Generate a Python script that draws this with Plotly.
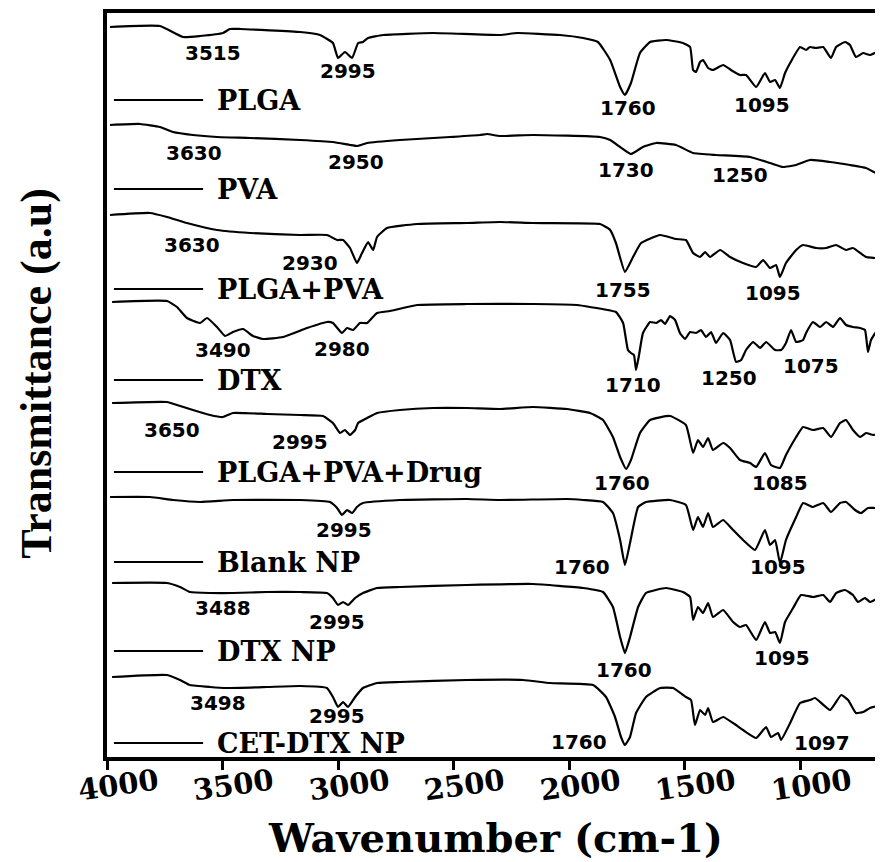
import plotly.graph_objects as go

# ---------------- data ----------------
sample_names = ["PLGA", "PVA", "PLGA+PVA", "DTX", "PLGA+PVA+Drug",
                "Blank NP", "DTX NP", "CET-DTX NP"]

plga_wn = [3987, 3771, 3671, 3597, 3498, 3468, 3424, 3164, 3078, 3022, 3000, 2970, 2939, 2913, 2892, 2870,
           2805, 2589, 2299, 2225, 2039, 1939, 1875, 1822, 1779, 1758, 1732, 1693, 1649, 1580, 1507, 1476,
           1463, 1450, 1433, 1420, 1398, 1377, 1333, 1299, 1260, 1234, 1190, 1152, 1130, 1108, 1087, 1065,
           1043, 1000, 974, 957, 931, 900, 866, 844, 805, 784, 758, 727, 697, 641]
plga_t = [730, 731, 720, 721, 724, 728, 728, 725, 722, 714, 699, 705, 699, 714, 715, 719,
          722, 724, 722, 724, 722, 719, 715, 697, 670, 662, 674, 704, 715, 717, 714, 710,
          687, 685, 695, 697, 689, 687, 692, 687, 682, 682, 670, 684, 675, 677, 669, 684,
          694, 710, 707, 710, 709, 710, 699, 710, 715, 712, 700, 704, 702, 709]

pva_wn = [3987, 3857, 3771, 3714, 3628, 3524, 3381, 3164, 3022, 2948, 2918, 2874, 2732, 2515, 2385, 2355,
          2299, 2156, 1866, 1822, 1779, 1732, 1680, 1623, 1537, 1463, 1364, 1216, 1130, 1074, 1017, 957,
          870, 784, 714, 671, 641]
pva_t = [632, 633, 630, 625, 622, 620, 619, 617, 615, 612, 611, 614, 617, 620, 622, 623,
         621, 622, 620, 617, 610, 603, 610, 614, 612, 604, 602, 600, 594, 590, 592, 597,
         595, 592, 589, 584, 587]

plgapva_wn = [3987, 3814, 3740, 3654, 3524, 3381, 3164, 3048, 3004, 2978, 2948, 2918, 2896, 2870, 2848, 2831,
              2788, 2658, 2442, 2299, 2156, 1866, 1822, 1797, 1758, 1723, 1688, 1606, 1537, 1494, 1463, 1433,
              1411, 1390, 1346, 1303, 1247, 1190, 1160, 1130, 1104, 1087, 1061, 1017, 987, 931, 887, 844,
              801, 771, 714, 671, 641]
plgapva_t = [542, 544, 540, 534, 527, 524, 522, 522, 517, 517, 509, 494, 504, 515, 507, 520,
             529, 533, 534, 535, 534, 533, 527, 514, 485, 500, 514, 522, 518, 517, 504, 500,
             505, 500, 507, 500, 494, 490, 497, 489, 492, 480, 494, 507, 512, 509, 509, 512,
             507, 509, 500, 499, 500]

dtx_wn = [3978, 3740, 3697, 3654, 3597, 3567, 3524, 3489, 3455, 3411, 3368, 3325, 3238, 3134, 3048, 3022,
          2983, 2961, 2935, 2905, 2874, 2831, 2775, 2658, 2442, 2156, 1965, 1909, 1797, 1766, 1745, 1732,
          1719, 1710, 1697, 1680, 1649, 1623, 1602, 1584, 1563, 1541, 1520, 1498, 1476, 1450, 1429, 1407,
          1385, 1364, 1333, 1303, 1277, 1255, 1234, 1203, 1173, 1147, 1108, 1082, 1061, 1039, 1017, 987,
          974, 944, 913, 887, 857, 827, 801, 771, 740, 719, 706, 693, 671, 641]
dtx_t = [455, 456, 450, 439, 434, 439, 430, 421, 425, 428, 421, 418, 420, 429, 435, 434,
         424, 429, 427, 434, 434, 444, 446, 452, 453, 453, 452, 450, 445, 434, 407, 404,
         402, 387, 402, 424, 435, 434, 437, 433, 441, 437, 424, 418, 425, 424, 427, 420,
         425, 414, 424, 417, 395, 397, 407, 415, 409, 415, 407, 407, 414, 427, 415, 417,
         424, 435, 430, 435, 430, 439, 432, 430, 429, 427, 405, 417, 425, 429]

drug_wn = [3978, 3740, 3697, 3628, 3554, 3498, 3455, 3307, 3164, 3065, 3022, 2991, 2970, 2948, 2926, 2913,
           2874, 2831, 2732, 2589, 2442, 2299, 2156, 2009, 1909, 1853, 1810, 1779, 1753, 1732, 1693, 1649,
           1563, 1494, 1463, 1442, 1420, 1398, 1377, 1333, 1303, 1260, 1216, 1190, 1152, 1126, 1087, 1061,
           1017, 987, 944, 900, 866, 827, 801, 771, 740, 714, 684, 641]
drug_t = [354, 355, 352, 347, 342, 340, 344, 343, 342, 341, 334, 324, 327, 322, 327, 334,
          339, 344, 347, 349, 349, 348, 350, 348, 344, 337, 320, 300, 288, 297, 324, 337,
          341, 332, 304, 317, 310, 319, 307, 314, 309, 297, 294, 290, 304, 292, 289, 302,
          320, 330, 327, 329, 320, 334, 337, 327, 320, 324, 322, 325]

blank_wn = [3987, 3814, 3714, 3597, 3455, 3164, 3035, 3004, 2983, 2961, 2939, 2918, 2892, 2732, 2442, 2299,
            2009, 1939, 1853, 1810, 1779, 1758, 1736, 1701, 1667, 1563, 1494, 1463, 1442, 1420, 1398, 1377,
            1333, 1290, 1247, 1195, 1152, 1130, 1108, 1087, 1061, 1017, 987, 944, 900, 866, 827, 801,
            762, 736, 706, 671, 641]
blank_t = [260, 260, 257, 255, 257, 257, 255, 249, 242, 247, 244, 250, 254, 257, 258, 257,
           258, 257, 255, 244, 217, 192, 214, 250, 255, 257, 252, 227, 240, 230, 244, 230,
           237, 227, 217, 207, 227, 212, 217, 194, 217, 240, 254, 250, 254, 245, 254, 255,
           247, 244, 249, 249, 250]

dtxnp_wn = [3978, 3740, 3684, 3641, 3554, 3455, 3307, 3164, 3048, 3022, 3000, 2978, 2957, 2926, 2892, 2831,
            2732, 2442, 2156, 1939, 1853, 1810, 1779, 1758, 1736, 1701, 1667, 1580, 1507, 1476, 1463, 1442,
            1420, 1398, 1377, 1333, 1290, 1260, 1234, 1190, 1152, 1130, 1108, 1087, 1065, 1030, 996, 944,
            900, 870, 844, 805, 771, 749, 719, 697, 641]
dtxnp_t = [174, 174, 170, 165, 164, 164, 165, 165, 164, 159, 152, 155, 152, 159, 164, 169,
           170, 172, 173, 169, 165, 150, 120, 104, 120, 150, 164, 169, 165, 160, 137, 150,
           144, 154, 140, 147, 135, 130, 132, 117, 135, 124, 125, 114, 135, 149, 162, 160,
           162, 155, 164, 167, 162, 155, 159, 155, 162]

cet_wn = [3978, 3740, 3684, 3641, 3554, 3481, 3307, 3164, 3048, 3022, 3000, 2978, 2957, 2926, 2892, 2831,
          2732, 2442, 2199, 2082, 1896, 1840, 1801, 1775, 1758, 1736, 1710, 1667, 1606, 1550, 1494, 1472,
          1455, 1433, 1411, 1398, 1377, 1333, 1290, 1247, 1190, 1147, 1126, 1095, 1082, 1043, 1000, 957,
          935, 870, 822, 792, 758, 727, 697, 641]
cet_t = [80, 82, 77, 72, 70, 69, 70, 71, 69, 60, 50, 55, 50, 60, 69, 74,
         75, 77, 77, 74, 72, 60, 40, 20, 12, 20, 44, 60, 69, 69, 60, 57,
         32, 47, 42, 49, 35, 40, 34, 27, 19, 30, 20, 24, 17, 34, 54, 57,
         59, 47, 62, 57, 44, 45, 49, 52]

spectra_wn = [plga_wn, pva_wn, plgapva_wn, dtx_wn, drug_wn, blank_wn, dtxnp_wn, cet_wn]
spectra_t = [plga_t, pva_t, plgapva_t, dtx_t, drug_t, blank_t, dtxnp_t, cet_t]

# level (a.u.) of each sample's name tag
name_level = [657, 568, 468, 377, 285, 195, 106, 14]

# peak labels: (text, wavenumber position, transmittance position)
peak_text = ["3515", "2995", "1760", "1095",
             "3630", "2950", "1730", "1250",
             "3630", "2930", "1755", "1095",
             "3490", "2980", "1710", "1250", "1075",
             "3650", "2995", "1760", "1085",
             "2995", "1760", "1095",
             "3488", "2995", "1760", "1095",
             "3498", "2995", "1760", "1097"]
peak_x = [3541, 2957, 1745, 1164,
          3623, 2922, 1753, 1260,
          3632, 3121, 1766, 1117,
          3498, 2983, 1723, 1307, 952,
          3719, 3164, 1771, 1087,
          2974, 1944, 1095,
          3498, 3004, 1762, 1078,
          3519, 3004, 1957, 905]
peak_y = [704, 686, 649, 652,
          604, 595, 587, 582,
          512, 494, 467, 464,
          407, 408, 372, 379, 391,
          327, 315, 274, 274,
          227, 190, 190,
          149, 135, 87, 99,
          54, 41, 15, 14]

tick_vals = [4000, 3500, 3000, 2500, 2000, 1500, 1000]
tick_text = ["4000", "3500", "3000", "2500", "2000", "1500", "1000"]

x_range = [4000, 641]
y_range = [0, 744]

# ---------------- figure ----------------
fig = go.Figure()

for name, wn, t in zip(sample_names, spectra_wn, spectra_t):
    fig.add_trace(go.Scatter(x=wn, y=t, mode="lines", name=name,
                             line=dict(color="black", width=2.2, shape="spline", smoothing=0.4),
                             showlegend=False, hoverinfo="skip"))

label_font = dict(family="DejaVu Serif", size=27, color="black", weight="bold")
num_font = dict(family="DejaVu Sans", size=20, color="black", weight="bold")

for name, lvl in zip(sample_names, name_level):
    fig.add_shape(type="line", xref="x", yref="y", x0=3970, x1=3584, y0=lvl, y1=lvl,
                  line=dict(color="black", width=2))
    fig.add_annotation(x=3532, y=lvl, xref="x", yref="y", text=name, showarrow=False,
                       xanchor="left", yanchor="middle", font=label_font)

for txt, px, py in zip(peak_text, peak_x, peak_y):
    fig.add_annotation(x=px, y=py, xref="x", yref="y", text=txt, showarrow=False,
                       xanchor="center", yanchor="middle", font=num_font)

tick_font = dict(family="DejaVu Serif", size=29, color="black", weight="bold")
for tv, tt in zip(tick_vals, tick_text):
    fig.add_annotation(x=tv, y=0, xref="x", yref="paper", text=tt, showarrow=False,
                       xanchor="center", yanchor="middle", xshift=11, yshift=-28,
                       textangle=-8, font=tick_font)

fig.add_annotation(x=0.5, y=0, xref="paper", yref="paper", text="Wavenumber (cm-1)",
                   showarrow=False, xanchor="center", yanchor="middle", yshift=-80,
                   font=dict(family="DejaVu Serif", size=40, color="black", weight="bold"))
fig.add_annotation(x=0, y=0.515, xref="paper", yref="paper", text="Transmittance (a.u)",
                   showarrow=False, xanchor="center", yanchor="middle", xshift=-70,
                   textangle=-90,
                   font=dict(family="Liberation Serif", size=44, color="black", weight="bold"))

fig.update_xaxes(range=x_range, tickvals=tick_vals, showticklabels=False,
                 ticks="outside", ticklen=9, tickwidth=3, tickcolor="black",
                 showline=True, linecolor="black", linewidth=4, mirror=True,
                 showgrid=False, zeroline=False)
fig.update_yaxes(range=y_range, showticklabels=False, ticks="",
                 showline=True, linecolor="black", linewidth=4, mirror=False,
                 showgrid=False, zeroline=False)

# the page places the figure 8 px from the top-left corner, so the figure is
# sized to fill the remaining 875 x 854 px of the window
fig.update_layout(width=875, height=854, plot_bgcolor="white", paper_bgcolor="white",
                  margin=dict(l=99, r=0, t=5, b=105), showlegend=False)

fig.write_html("out.html")
